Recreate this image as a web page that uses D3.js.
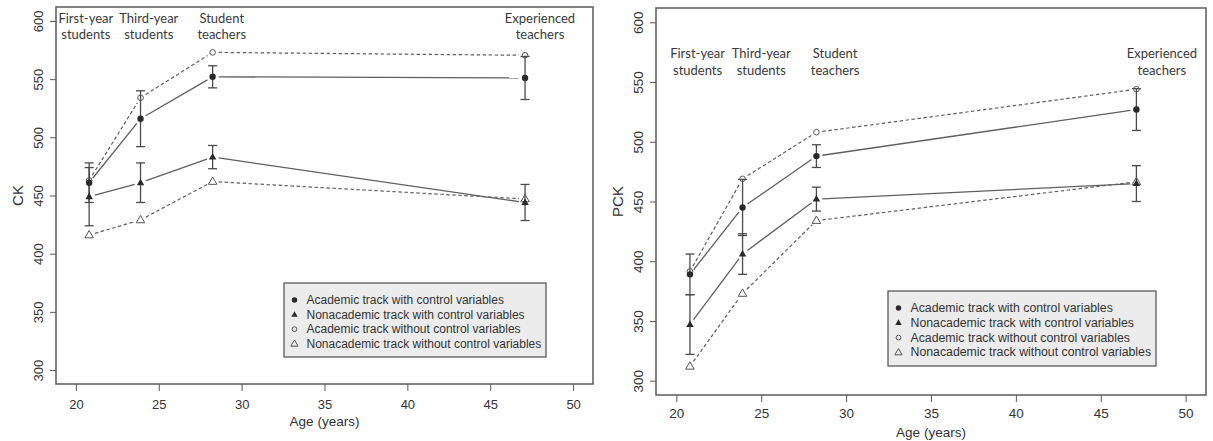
<!DOCTYPE html>
<html>
<head>
<meta charset="utf-8">
<script src="https://cdn.jsdelivr.net/npm/d3@7"></script>
<style>
  body { margin: 0; background: #fff; }
  text { fill: #333; }
</style>
</head>
<body>
<svg id="chart" width="1213" height="441"></svg>
<script>
// Career stages and the mean age of each group
const stageNames = [["First-year", "students"], ["Third-year", "students"], ["Student", "teachers"], ["Experienced", "teachers"]];
const stageAges = [20.8, 23.9, 28.25, 47.1];

const xTicks = [20, 25, 30, 35, 40, 45, 50];
const yTicks = [300, 350, 400, 450, 500, 550, 600];

const seriesNames = [
  "Academic track with control variables",
  "Nonacademic track with control variables",
  "Academic track without control variables",
  "Nonacademic track without control variables"
];

// Content knowledge (CK)
const ckAcademicCtrl = [461, 516, 552, 551];
const ckAcademicCtrlErr = [17, 24, 9.5, 18.5];
const ckNonacademicCtrl = [449, 461, 483, 444];
const ckNonacademicCtrlErr = [25, 17, 10, 15.5];
const ckAcademicRaw = [463, 534, 573, 570.5];
const ckNonacademicRaw = [416, 429, 462, 447];

// Pedagogical content knowledge (PCK)
const pckAcademicCtrl = [389, 445, 488, 527];
const pckAcademicCtrlErr = [17, 23.5, 9.5, 17.5];
const pckNonacademicCtrl = [347, 406, 452, 465];
const pckNonacademicCtrlErr = [25, 17, 10, 15];
const pckAcademicRaw = [391.5, 469, 508, 544];
const pckNonacademicRaw = [312, 373, 434, 466.5];

const panels = [
  {
    yTitle: "CK",
    box: { x0: 56, x1: 593, y0: 7, y1: 384 },
    series: [ckAcademicCtrl, ckNonacademicCtrl, ckAcademicRaw, ckNonacademicRaw],
    errors: [ckAcademicCtrlErr, ckNonacademicCtrlErr],
    stageLabelAges: [20.6, 24.4, 28.8, 48.0],
    stageLabelScore: 602.5, stageLabelGap: 16,
    legend: { x: 284, y: 283, w: 262, h: 74, row: 14.6, font: 12 },
    tickFont: 13, tickLabelOffset: 20
  },
  {
    yTitle: "PCK",
    box: { x0: 656, x1: 1206, y0: 8, y1: 395 },
    series: [pckAcademicCtrl, pckNonacademicCtrl, pckAcademicRaw, pckNonacademicRaw],
    errors: [pckAcademicCtrlErr, pckNonacademicCtrlErr],
    stageLabelAges: [21.25, 25.0, 29.35, 48.6],
    stageLabelScore: 574.5, stageLabelGap: 17,
    legend: { x: 888, y: 291, w: 268, h: 75, row: 14.8, font: 12.3 },
    tickFont: 13.5, tickLabelOffset: 18
  }
];

const svg = d3.select("#chart");
const frameColor = "#5a5a5a";
const lineColor = "#5f5f5f";
const markColor = "#2a2a2a";
const sansAxis = "'Liberation Sans', Arial, sans-serif";
const sansLabel = "Lato, 'Open Sans', sans-serif";

function trianglePath(cx, cy, w) {
  const h = w * 0.87;
  return `M${cx},${cy - h * 0.62}L${cx + w / 2},${cy + h * 0.38}L${cx - w / 2},${cy + h * 0.38}Z`;
}

function drawMarker(g, kind, cx, cy, scale) {
  const s = scale || 1;
  if (kind === 0) {
    g.append("circle").attr("cx", cx).attr("cy", cy).attr("r", 3.2 * s).attr("fill", markColor);
  } else if (kind === 1) {
    g.append("path").attr("d", trianglePath(cx, cy, 7.5 * s)).attr("fill", markColor);
  } else if (kind === 2) {
    g.append("circle").attr("cx", cx).attr("cy", cy).attr("r", 2.8 * s)
      .attr("fill", "none").attr("stroke", "#555").attr("stroke-width", 1);
  } else {
    g.append("path").attr("d", trianglePath(cx, cy, 8.5 * s))
      .attr("fill", "none").attr("stroke", "#555").attr("stroke-width", 1);
  }
}

panels.forEach(p => {
  const b = p.box;
  const x = d3.scaleLinear().domain([18.8, 51.2]).range([b.x0, b.x1]);
  const y = d3.scaleLinear().domain([288, 612]).range([b.y1, b.y0]);
  const g = svg.append("g");

  // Axes
  const xAxis = d3.axisBottom(x).tickValues(xTicks).tickSize(7).tickPadding(p.tickLabelOffset - 7 - 9).tickSizeOuter(0);
  const gx = g.append("g").attr("transform", `translate(0,${b.y1})`).call(xAxis);
  const yAxis = d3.axisLeft(y).tickValues(yTicks).tickSize(6).tickSizeOuter(0);
  const gy = g.append("g").attr("transform", `translate(${b.x0},0)`).call(yAxis);
  [gx, gy].forEach(ax => {
    ax.select(".domain").remove();
    ax.selectAll(".tick line").attr("stroke", frameColor).attr("stroke-width", 1);
    ax.selectAll(".tick text").attr("fill", "#333").style("font-family", sansAxis).style("font-size", p.tickFont + "px");
  });
  gx.selectAll(".tick text").attr("dy", null).attr("y", p.tickLabelOffset).attr("dominant-baseline", "central");
  gy.selectAll(".tick text")
    .attr("x", null).attr("dy", null)
    .attr("text-anchor", "middle").attr("dominant-baseline", "central")
    .attr("transform", d => `translate(${-18},0) rotate(-90)`);

  // Plot frame
  g.append("rect").attr("x", b.x0).attr("y", b.y0).attr("width", b.x1 - b.x0).attr("height", b.y1 - b.y0)
    .attr("fill", "none").attr("stroke", frameColor).attr("stroke-width", 1.5);

  // Axis titles
  g.append("text").attr("x", (b.x0 + b.x1) / 2).attr("y", b.y1 + 37.5)
    .attr("text-anchor", "middle").attr("dominant-baseline", "central")
    .style("font-family", sansAxis).style("font-size", "13.5px").text("Age (years)");
  g.append("text").attr("transform", `translate(${b.x0 - 38.5},${(b.y0 + b.y1) / 2}) rotate(-90)`)
    .attr("text-anchor", "middle").attr("dominant-baseline", "central")
    .style("font-family", sansAxis).style("font-size", "15px").text(p.yTitle);

  // Stage labels
  stageNames.forEach((lines, i) => {
    lines.forEach((t, j) => {
      g.append("text").attr("x", x(p.stageLabelAges[i])).attr("y", y(p.stageLabelScore) + j * p.stageLabelGap)
        .attr("text-anchor", "middle").attr("dominant-baseline", "central")
        .style("font-family", sansLabel).style("font-size", "13px").style("fill", "#3a3a3a").text(t);
    });
  });

  // Connecting lines, stopped short of each marker
  const gap = 6;
  p.series.forEach((vals, si) => {
    for (let k = 0; k < vals.length - 1; k++) {
      const xa = x(stageAges[k]), ya = y(vals[k]);
      const xb = x(stageAges[k + 1]), yb = y(vals[k + 1]);
      const len = Math.hypot(xb - xa, yb - ya);
      const ux = (xb - xa) / len, uy = (yb - ya) / len;
      g.append("line")
        .attr("x1", xa + ux * gap).attr("y1", ya + uy * gap)
        .attr("x2", xb - ux * gap).attr("y2", yb - uy * gap)
        .attr("stroke", lineColor).attr("stroke-width", si < 2 ? 1.3 : 1.2)
        .attr("stroke-dasharray", si < 2 ? null : "3.5,2.5");
    }
  });

  // Error bars on the adjusted estimates
  p.errors.forEach((errs, si) => {
    errs.forEach((e, k) => {
      const cx = x(stageAges[k]);
      const v = p.series[si][k];
      const yt = y(v + e), yb = y(v - e);
      g.append("line").attr("x1", cx).attr("x2", cx).attr("y1", yt).attr("y2", yb)
        .attr("stroke", "#4a4a4a").attr("stroke-width", 1.3);
      [yt, yb].forEach(yy => {
        g.append("line").attr("x1", cx - 4.5).attr("x2", cx + 4.5).attr("y1", yy).attr("y2", yy)
          .attr("stroke", "#4a4a4a").attr("stroke-width", 1.3);
      });
    });
  });

  // Markers (unadjusted first so adjusted ones sit on top)
  [2, 3, 0, 1].forEach(si => {
    p.series[si].forEach((v, k) => drawMarker(g, si, x(stageAges[k]), y(v)));
  });

  // Legend
  const L = p.legend;
  const lg = g.append("g");
  lg.append("rect").attr("x", L.x).attr("y", L.y).attr("width", L.w).attr("height", L.h)
    .attr("fill", "#ececec").attr("stroke", "#5a5a5a").attr("stroke-width", 1.3);
  seriesNames.forEach((name, i) => {
    const cy = L.y + 17 + i * L.row;
    drawMarker(lg, i, L.x + 10.5, cy, 0.85);
    lg.append("text").attr("x", L.x + 22.5).attr("y", cy).attr("dominant-baseline", "central")
      .style("font-family", sansAxis).style("font-size", L.font + "px").style("fill", "#333").text(name);
  });
});
</script>
</body>
</html>
